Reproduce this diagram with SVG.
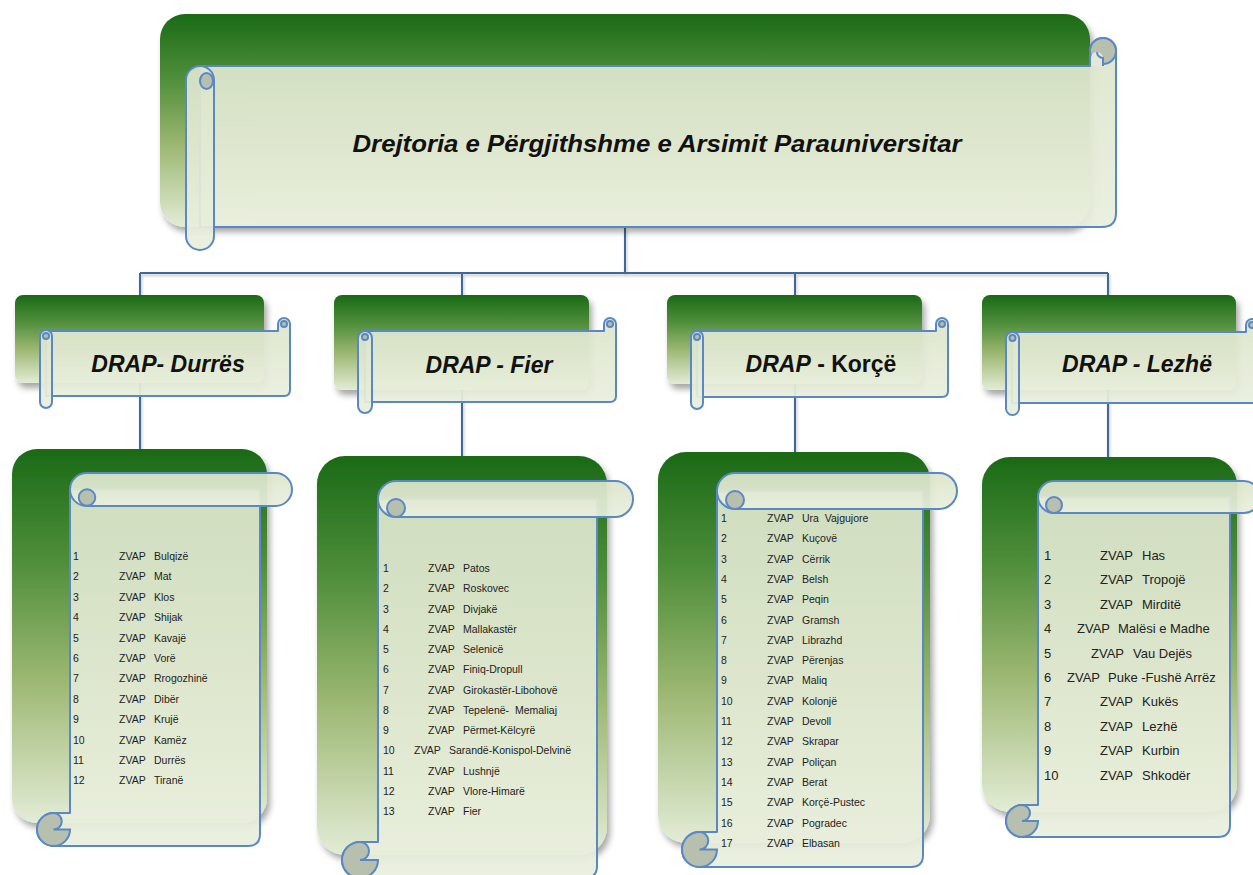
<svg xmlns="http://www.w3.org/2000/svg" width="1253" height="875" viewBox="0 0 1253 875">
<defs>
<linearGradient id="grn" x1="0" y1="0" x2="0" y2="1">
<stop offset="0" stop-color="#1a6a16"/>
<stop offset="0.3" stop-color="#4f8e3b"/>
<stop offset="0.62" stop-color="#9db873"/>
<stop offset="1" stop-color="#e3ecd6"/>
</linearGradient>
<linearGradient id="scr" x1="0" y1="0" x2="0" y2="1">
<stop offset="0" stop-color="#dce5cb"/>
<stop offset="1" stop-color="#e9efdd"/>
</linearGradient>
<filter id="sh" x="-10%" y="-10%" width="125%" height="130%">
<feDropShadow dx="3" dy="5" stdDeviation="3" flood-color="#000" flood-opacity="0.35"/>
</filter>
<filter id="sh2" x="-10%" y="-10%" width="125%" height="130%">
<feDropShadow dx="1" dy="2" stdDeviation="1.5" flood-color="#000" flood-opacity="0.25"/>
</filter>
</defs>
<style>
.g{fill:url(#grn);filter:url(#sh)}
.s{fill:url(#scr);fill-opacity:0.93;stroke:#5a88c4;stroke-width:2;stroke-linejoin:round}
.gr{fill:#b7bfae;stroke:#5a88c4;stroke-width:2}
.ln{fill:none;stroke:#41689a;stroke-width:2}
.t{font-family:"Liberation Sans",Arial,sans-serif;font-weight:bold;font-style:italic;fill:#111;text-anchor:middle}
.l{font-family:"Liberation Sans",Arial,sans-serif;font-size:10.5px;fill:#222}
.lz{font-family:"Liberation Sans",Arial,sans-serif;font-size:13px;fill:#222}
</style>

<g id="connectors" filter="url(#sh2)">
<path class="ln" d="M625,228 V273 M140,273 H1108 M140,273 V452 M462,273 V458 M795,273 V452 M1108,273 V458"/>
</g>

<g id="root">
<rect class="g" x="160" y="14" width="930" height="213" rx="25"/>
<path class="s" d="M200,66 H1090 V51 A13,13 0 0 1 1116,51 V213 Q1116,227 1102,227 H200 Z"/>
<circle class="gr" cx="1103" cy="51" r="13"/>
<path d="M1091,57 V66 H1103 V59 A6,6 0 0 0 1091,57 Z" fill="#e3e9d6" stroke="none"/>
<path d="M1103,66 V58 A6,6 0 0 1 1097,52" fill="none" stroke="#5a88c4" stroke-width="2"/>
<rect class="s" x="186" y="66" width="28" height="184" rx="14"/>
<ellipse class="gr" cx="206.5" cy="81" rx="6.5" ry="8"/>
<text class="t" x="657" y="152" font-size="23" textLength="609" lengthAdjust="spacingAndGlyphs">Drejtoria e Përgjithshme e Arsimit Parauniversitar</text>
</g>

<g id="drap-durres">
<rect class="g" x="15" y="295" width="249" height="88" rx="8"/>
<path class="s" d="M46,331 H278 V324 A6,6 0 0 1 290,324 V390 Q290,396 284,396 H46 Z"/>
<circle class="gr" cx="284" cy="324" r="3"/>
<rect class="s" x="40" y="330" width="12" height="78" rx="6"/>
<circle class="gr" cx="46" cy="336" r="3"/>
<text class="t" x="168" y="372" font-size="23">DRAP- Durrës</text>
</g>

<g id="drap-fier">
<rect class="g" x="334" y="295" width="255" height="95" rx="8"/>
<path class="s" d="M365,331 H604 V324 A6,6 0 0 1 616,324 V396 Q616,402 610,402 H365 Z"/>
<circle class="gr" cx="610" cy="324" r="3"/>
<rect class="s" x="358" y="331" width="14" height="82" rx="7"/>
<circle class="gr" cx="365" cy="337" r="3"/>
<text class="t" x="489" y="373" font-size="23">DRAP - Fier</text>
</g>

<g id="drap-korce">
<rect class="g" x="667" y="295" width="255" height="89" rx="8"/>
<path class="s" d="M697,331 H936 V324 A6,6 0 0 1 948,324 V391 Q948,397 942,397 H697 Z"/>
<circle class="gr" cx="942" cy="324" r="3"/>
<rect class="s" x="691" y="331" width="12" height="78" rx="6"/>
<circle class="gr" cx="697" cy="337" r="3"/>
<text class="t" x="821" y="372" font-size="23"><tspan>DRAP</tspan><tspan font-style="normal"> - Korçë</tspan></text>
</g>

<g id="drap-lezhe">
<rect class="g" x="982" y="295" width="254" height="95" rx="8"/>
<path class="s" d="M1012,332 H1246 V325 A6,6 0 0 1 1258,325 V403 H1012 Z"/>
<circle class="gr" cx="1252" cy="325" r="3"/>
<rect class="s" x="1006" y="332" width="13" height="83" rx="6.5"/>
<circle class="gr" cx="1012.5" cy="338" r="3"/>
<text class="t" x="1137" y="372" font-size="23">DRAP - Lezhë</text>
</g>

<g id="list-durres">
<rect class="g" x="12" y="449" width="255" height="374" rx="25"/>
<path class="s" d="M70,489.5 H260 V834 Q260,846 248,846 H53.5 A16.5,16.5 0 0 1 53.5,813 H70 Z"/>
<path class="gr" d="M53.5,813 A8.25,8.25 0 0 1 53.5,829.5 H70 A16.5,16.5 0 0 1 53.5,846 A16.5,16.5 0 0 1 53.5,813 Z"/>
<rect class="s" x="70" y="473" width="222" height="33" rx="16.5"/>
<circle class="gr" cx="87" cy="497.5" r="8.25"/>
<g class="l">
<text x="73" y="560">1</text><text x="119" y="560">ZVAP</text><text x="154" y="560">Bulqizë</text>
<text x="73" y="580.4">2</text><text x="119" y="580.4">ZVAP</text><text x="154" y="580.4">Mat</text>
<text x="73" y="600.8">3</text><text x="119" y="600.8">ZVAP</text><text x="154" y="600.8">Klos</text>
<text x="73" y="621.2">4</text><text x="119" y="621.2">ZVAP</text><text x="154" y="621.2">Shijak</text>
<text x="73" y="641.6">5</text><text x="119" y="641.6">ZVAP</text><text x="154" y="641.6">Kavajë</text>
<text x="73" y="662">6</text><text x="119" y="662">ZVAP</text><text x="154" y="662">Vorë</text>
<text x="73" y="682.4">7</text><text x="119" y="682.4">ZVAP</text><text x="154" y="682.4">Rrogozhinë</text>
<text x="73" y="702.8">8</text><text x="119" y="702.8">ZVAP</text><text x="154" y="702.8">Dibër</text>
<text x="73" y="723.2">9</text><text x="119" y="723.2">ZVAP</text><text x="154" y="723.2">Krujë</text>
<text x="73" y="743.6">10</text><text x="119" y="743.6">ZVAP</text><text x="154" y="743.6">Kamëz</text>
<text x="73" y="764">11</text><text x="119" y="764">ZVAP</text><text x="154" y="764">Durrës</text>
<text x="73" y="784.4">12</text><text x="119" y="784.4">ZVAP</text><text x="154" y="784.4">Tiranë</text>
</g>
</g>

<g id="list-fier">
<rect class="g" x="317" y="456" width="290" height="399" rx="28"/>
<path class="s" d="M378,499 H597 V866 Q597,878 585,878 H360 A18,18 0 0 1 360,842 H378 Z"/>
<path class="gr" d="M360,842 A9,9 0 0 1 360,860 H378 A18,18 0 0 1 360,878 A18,18 0 0 1 360,842 Z"/>
<rect class="s" x="378" y="481" width="255" height="36" rx="18"/>
<circle class="gr" cx="396" cy="508" r="9"/>
<g class="l">
<text x="383" y="572">1</text><text x="428" y="572">ZVAP</text><text x="463" y="572">Patos</text>
<text x="383" y="592.25">2</text><text x="428" y="592.25">ZVAP</text><text x="463" y="592.25">Roskovec</text>
<text x="383" y="612.5">3</text><text x="428" y="612.5">ZVAP</text><text x="463" y="612.5">Divjakë</text>
<text x="383" y="632.75">4</text><text x="428" y="632.75">ZVAP</text><text x="463" y="632.75">Mallakastër</text>
<text x="383" y="653">5</text><text x="428" y="653">ZVAP</text><text x="463" y="653">Selenicë</text>
<text x="383" y="673.25">6</text><text x="428" y="673.25">ZVAP</text><text x="463" y="673.25">Finiq-Dropull</text>
<text x="383" y="693.5">7</text><text x="428" y="693.5">ZVAP</text><text x="463" y="693.5">Girokastër-Libohovë</text>
<text x="383" y="713.75">8</text><text x="428" y="713.75">ZVAP</text><text x="463" y="713.75" xml:space="preserve">Tepelenë-  Memaliaj</text>
<text x="383" y="734">9</text><text x="428" y="734">ZVAP</text><text x="463" y="734">Përmet-Këlcyrë</text>
<text x="383" y="754.25">10</text><text x="414" y="754.25">ZVAP</text><text x="449" y="754.25">Sarandë-Konispol-Delvinë</text>
<text x="383" y="774.5">11</text><text x="428" y="774.5">ZVAP</text><text x="463" y="774.5">Lushnjë</text>
<text x="383" y="794.75">12</text><text x="428" y="794.75">ZVAP</text><text x="463" y="794.75">Vlore-Himarë</text>
<text x="383" y="815">13</text><text x="428" y="815">ZVAP</text><text x="463" y="815">Fier</text>
</g>
</g>

<g id="list-korce">
<rect class="g" x="658" y="452" width="272" height="391" rx="28"/>
<path class="s" d="M717,491 H923 V855 Q923,867 911,867 H699.5 A17.5,17.5 0 0 1 699.5,832 H717 Z"/>
<path class="gr" d="M699.5,832 A8.75,8.75 0 0 1 699.5,849.5 H717 A17.5,17.5 0 0 1 699.5,867 A17.5,17.5 0 0 1 699.5,832 Z"/>
<rect class="s" x="717" y="473" width="240" height="36" rx="18"/>
<circle class="gr" cx="735" cy="500" r="9"/>
<g class="l">
<text x="721" y="522">1</text><text x="767" y="522">ZVAP</text><text x="802" y="522" xml:space="preserve">Ura  Vajgujore</text>
<text x="721" y="542.3">2</text><text x="767" y="542.3">ZVAP</text><text x="802" y="542.3">Kuçovë</text>
<text x="721" y="562.6">3</text><text x="767" y="562.6">ZVAP</text><text x="802" y="562.6">Cërrik</text>
<text x="721" y="582.9">4</text><text x="767" y="582.9">ZVAP</text><text x="802" y="582.9">Belsh</text>
<text x="721" y="603.2">5</text><text x="767" y="603.2">ZVAP</text><text x="802" y="603.2">Peqin</text>
<text x="721" y="623.5">6</text><text x="767" y="623.5">ZVAP</text><text x="802" y="623.5">Gramsh</text>
<text x="721" y="643.8">7</text><text x="767" y="643.8">ZVAP</text><text x="802" y="643.8">Librazhd</text>
<text x="721" y="664.1">8</text><text x="767" y="664.1">ZVAP</text><text x="802" y="664.1">Përenjas</text>
<text x="721" y="684.4">9</text><text x="767" y="684.4">ZVAP</text><text x="802" y="684.4">Maliq</text>
<text x="721" y="704.7">10</text><text x="767" y="704.7">ZVAP</text><text x="802" y="704.7">Kolonjë</text>
<text x="721" y="725">11</text><text x="767" y="725">ZVAP</text><text x="802" y="725">Devoll</text>
<text x="721" y="745.3">12</text><text x="767" y="745.3">ZVAP</text><text x="802" y="745.3">Skrapar</text>
<text x="721" y="765.6">13</text><text x="767" y="765.6">ZVAP</text><text x="802" y="765.6">Poliçan</text>
<text x="721" y="785.9">14</text><text x="767" y="785.9">ZVAP</text><text x="802" y="785.9">Berat</text>
<text x="721" y="806.2">15</text><text x="767" y="806.2">ZVAP</text><text x="802" y="806.2">Korçë-Pustec</text>
<text x="721" y="826.5">16</text><text x="767" y="826.5">ZVAP</text><text x="802" y="826.5">Pogradec</text>
<text x="721" y="846.8">17</text><text x="767" y="846.8">ZVAP</text><text x="802" y="846.8">Elbasan</text>
</g>
</g>

<g id="list-lezhe">
<rect class="g" x="982" y="457" width="255" height="355" rx="28"/>
<path class="s" d="M1038,497 H1230 V825 Q1230,837 1218,837 H1022 A16,16 0 0 1 1022,805 H1038 Z"/>
<path class="gr" d="M1022,805 A8,8 0 0 1 1022,821 H1038 A16,16 0 0 1 1022,837 A16,16 0 0 1 1022,805 Z"/>
<rect class="s" x="1038" y="481" width="222" height="32" rx="16"/>
<circle class="gr" cx="1054" cy="505" r="8"/>
<g class="lz">
<text x="1044" y="560">1</text><text x="1100" y="560">ZVAP</text><text x="1142" y="560">Has</text>
<text x="1044" y="584.4">2</text><text x="1100" y="584.4">ZVAP</text><text x="1142" y="584.4">Tropojë</text>
<text x="1044" y="608.8">3</text><text x="1100" y="608.8">ZVAP</text><text x="1142" y="608.8">Mirditë</text>
<text x="1044" y="633.2">4</text><text x="1077" y="633.2">ZVAP</text><text x="1118" y="633.2">Malësi e Madhe</text>
<text x="1044" y="657.6">5</text><text x="1091" y="657.6">ZVAP</text><text x="1133" y="657.6">Vau Dejës</text>
<text x="1044" y="682">6</text><text x="1067" y="682">ZVAP</text><text x="1108" y="682">Puke -Fushë Arrëz</text>
<text x="1044" y="706.4">7</text><text x="1100" y="706.4">ZVAP</text><text x="1142" y="706.4">Kukës</text>
<text x="1044" y="730.8">8</text><text x="1100" y="730.8">ZVAP</text><text x="1142" y="730.8">Lezhë</text>
<text x="1044" y="755.2">9</text><text x="1100" y="755.2">ZVAP</text><text x="1142" y="755.2">Kurbin</text>
<text x="1044" y="779.6">10</text><text x="1100" y="779.6">ZVAP</text><text x="1142" y="779.6">Shkodër</text>
</g>
</g>
</svg>
